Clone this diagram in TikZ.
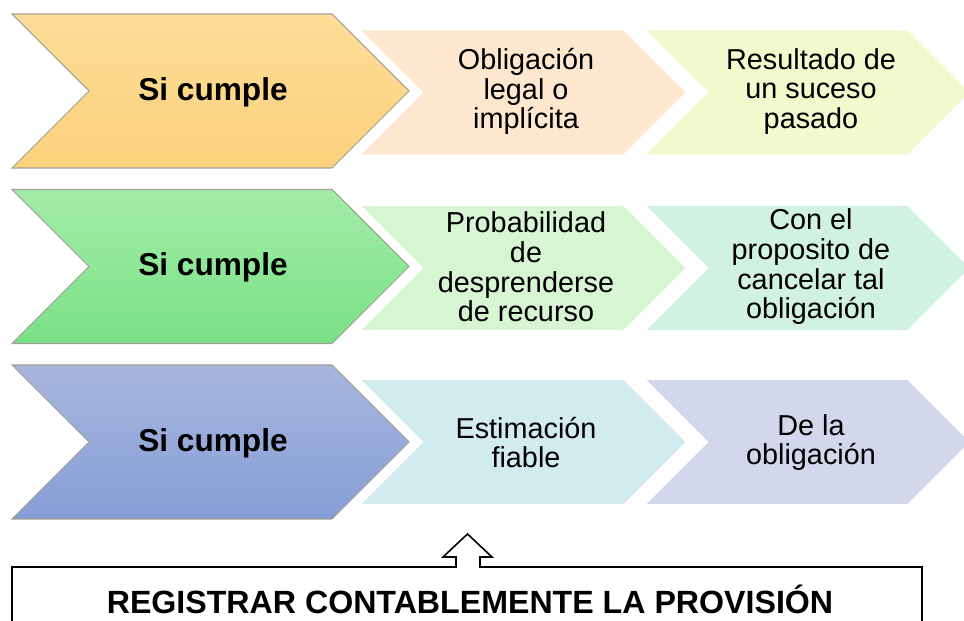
\documentclass[tikz,border=0pt]{standalone}
\usepackage{fontspec}
\setmainfont{Liberation Sans}
\definecolor{orT}{RGB}{253,221,152}
\definecolor{orB}{RGB}{252,209,124}
\definecolor{grT}{RGB}{163,236,168}
\definecolor{grB}{RGB}{122,225,133}
\definecolor{blT}{RGB}{167,182,222}
\definecolor{blB}{RGB}{134,158,214}
\definecolor{sa1}{RGB}{253,232,207}
\definecolor{sb1}{RGB}{240,250,205}
\definecolor{sa2}{RGB}{216,245,211}
\definecolor{sb2}{RGB}{210,242,225}
\definecolor{sa3}{RGB}{210,235,238}
\definecolor{sb3}{RGB}{210,215,235}
\definecolor{edge}{RGB}{160,160,150}
\tikzset{
  x=0.02cm, y=-0.02cm,
  bigchev/.style={draw=edge, line width=0.6pt, line join=miter},
  smallchev/.style={draw=white, line width=2pt, line join=miter},
  bigtxt/.style={font=\fontsize{18}{20}\selectfont\bfseries, align=center, inner sep=0pt},
  regtxt/.style={font=\fontsize{18.3}{20}\selectfont\bfseries, align=center, inner sep=0pt},
  smalltxt/.style={font=\fontsize{16.4}{16.9}\selectfont, align=center, inner sep=0pt},
  boxline/.style={draw=black, line width=0.9pt, line join=miter}
}
\begin{document}
\begin{tikzpicture}
\clip (0,0) rectangle (964,621);
\fill[white] (0,0) rectangle (964,621);
% rows: centre y
\foreach \cy/\ca/\cb in {92.5/sa1/sb1, 268/sa2/sb2, 442/sa3/sb3}{
  \path[smallchev, fill=\ca] (357,\cy-64) -- (624,\cy-64) -- (688,\cy) -- (624,\cy+64) -- (357,\cy+64) -- (421,\cy) -- cycle;
  \path[smallchev, fill=\cb] (642,\cy-64) -- (908,\cy-64) -- (972,\cy) -- (908,\cy+64) -- (642,\cy+64) -- (706,\cy) -- cycle;
}
\path[bigchev, top color=orT, bottom color=orB] (12,14) -- (332,14) -- (409,91) -- (332,168) -- (12,168) -- (89,91) -- cycle;
\path[bigchev, top color=grT, bottom color=grB] (12,189.5) -- (332,189.5) -- (409,266.5) -- (332,343.5) -- (12,343.5) -- (89,266.5) -- cycle;
\path[bigchev, top color=blT, bottom color=blB] (12,365) -- (332,365) -- (409,442) -- (332,519) -- (12,519) -- (89,442) -- cycle;

\node[bigtxt] (s1) at (213,92) {Si cumple};
\node[bigtxt] (s2) at (213,267.5) {Si cumple};
\node[bigtxt] (s3) at (213,443) {Si cumple};

\node[smalltxt] (a1) at (526,91.5) {Obligación\\legal o\\implícita};
\node[smalltxt] (b1) at (811,91.5) {Resultado de\\un suceso\\pasado};
\node[smalltxt] (a2) at (526,267) {Probabilidad\\de\\desprenderse\\de recurso};
\node[smalltxt] (b2) at (811,267) {Con el\\proposito de\\cancelar tal\\obligación};
\node[smalltxt] (a3) at (526,442.5) {Estimación\\fiable};
\node[smalltxt] (b3) at (811,442.5) {De la\\obligación};

\coordinate (tip) at (467.5,534);
\path[boxline] (12,660) -- (12,567) -- (456,567) -- (456,557) -- (443,557) -- (tip) -- (492,557) -- (480,557) -- (480,567) -- (922,567) -- (922,660);
\node[regtxt] (reg) at (470,599) {REGISTRAR CONTABLEMENTE LA PROVISIÓN};
\end{tikzpicture}
\end{document}
